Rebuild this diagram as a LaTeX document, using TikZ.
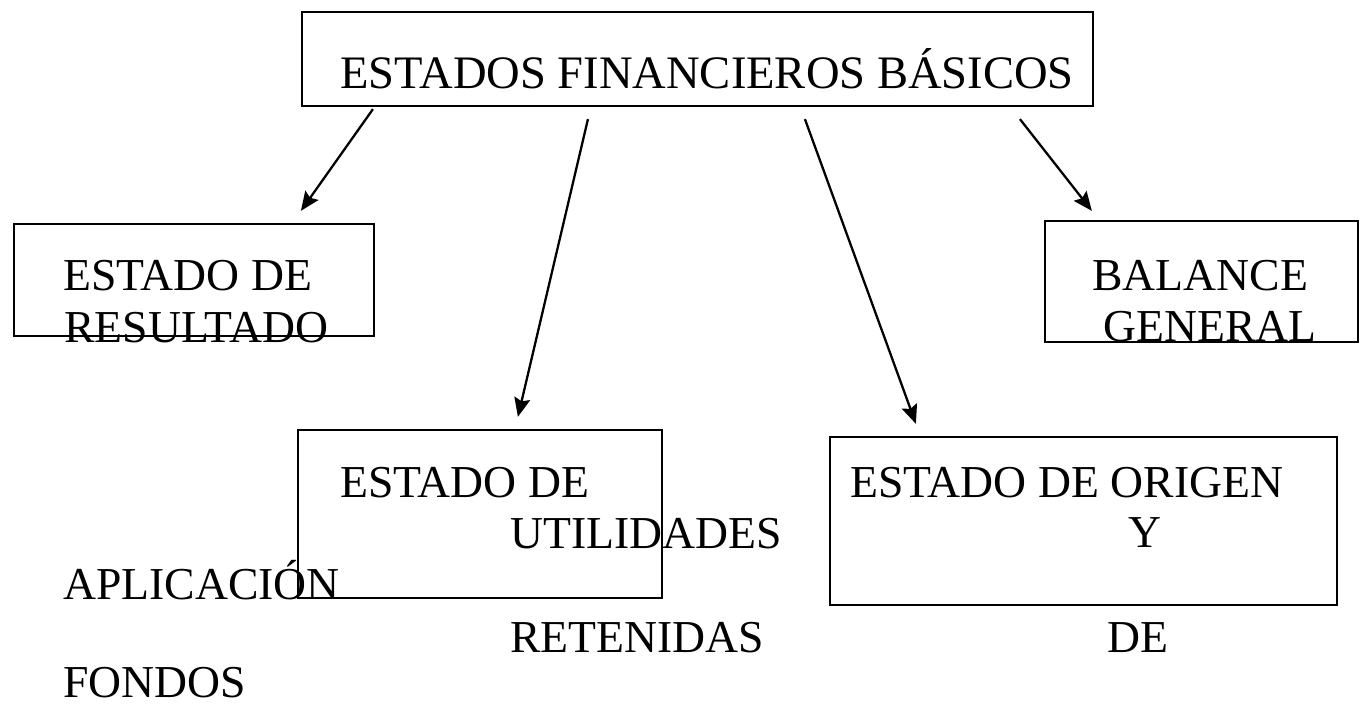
\documentclass[tikz,border=0pt]{standalone}
\usepackage{fontspec}
\setmainfont{Liberation Serif}
\usetikzlibrary{arrows.meta}
\tikzset{
	box-node/.style={shape=rectangle,draw=black,line width=1.3pt,inner sep=0pt},
	caps-text/.style={anchor=base west,inner sep=0pt,font=\fontsize{26}{30}\selectfont},
	title-text/.style={caps-text,font=\fontsize{26.5}{30}\selectfont},
}
\tikzstyle{arrow} = [line width=1.3pt,->,>={Stealth[length=0.38cm,width=0.32cm,inset=0.06cm]}]

\begin{document}
\begin{tikzpicture}[x=0.02cm,y=-0.02cm]
	\useasboundingbox (0,0) rectangle (1364,703);
	% boxes
	\node[box-node,minimum width=15.82cm,minimum height=1.88cm] (top) at (697.5,59) {};
	\node[box-node,minimum width=7.2cm,minimum height=2.24cm] (res) at (194,280) {};
	\node[box-node,minimum width=6.26cm,minimum height=2.42cm] (bal) at (1201.5,281.5) {};
	\node[box-node,minimum width=7.28cm,minimum height=3.36cm] (util) at (480,514) {};
	\node[box-node,minimum width=10.14cm,minimum height=3.36cm] (orig) at (1083.5,521) {};

	% texts
	\node[title-text] (t-top) at (340,88) {ESTADOS FINANCIEROS BÁSICOS};
	\node[caps-text] (t-res1) at (63,290) {ESTADO DE};
	\node[caps-text] (t-res2) at (64,342) {RESULTADO};
	\node[caps-text] (t-bal1) at (1092,290) {BALANCE};
	\node[caps-text] (t-bal2) at (1103,341) {GENERAL};
	\node[caps-text] (t-util1) at (340,497) {ESTADO DE};
	\node[caps-text] (t-util2) at (510,548) {UTILIDADES};
	\node[caps-text] (t-apl) at (63,599) {APLICACIÓN};
	\node[caps-text] (t-ret) at (510,652) {RETENIDAS};
	\node[caps-text] (t-fon) at (63,697) {FONDOS};
	\node[caps-text] (t-orig1) at (850,497) {ESTADO DE ORIGEN};
	\node[caps-text] (t-orig2) at (1128,547) {Y};
	\node[caps-text] (t-orig3) at (1107,652) {DE};

	% arrows
	\draw[arrow] ([shift={(72,2)}]top.south west) -- ([shift={(288,-12)}]res.north west);
	\draw[arrow] ([shift={(287,12)}]top.south west) -- ([shift={(221,-12)}]util.north west);
	\draw[arrow] ([shift={(504,12)}]top.south west) -- ([shift={(87,-12)}]orig.north west);
	\draw[arrow] ([shift={(719,12)}]top.south west) -- ([shift={(48,-9)}]bal.north west);
\end{tikzpicture}
\end{document}
